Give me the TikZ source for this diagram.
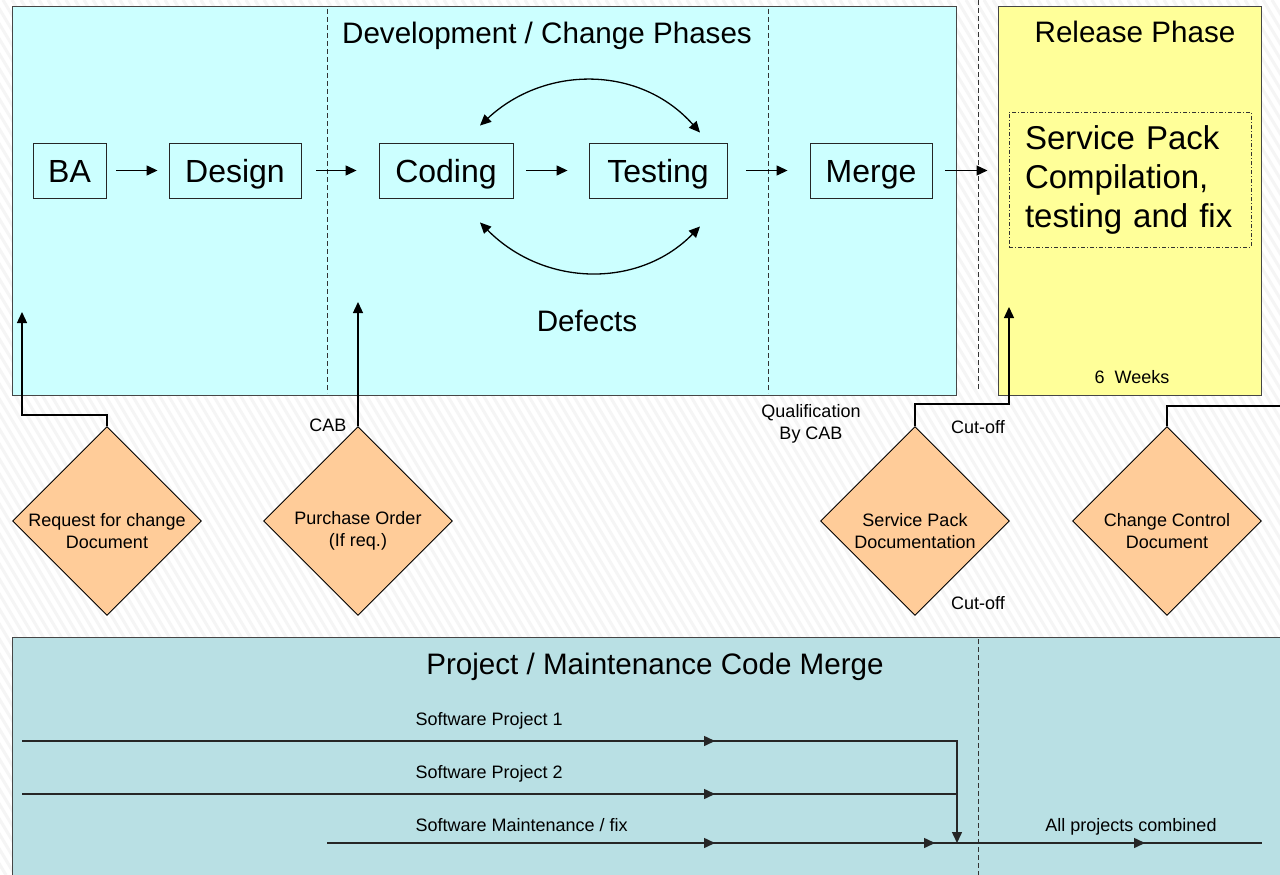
\documentclass[tikz,border=0pt]{standalone}
\usepackage{fontspec}
\setmainfont{Liberation Sans}
\usetikzlibrary{shapes.geometric,arrows.meta}
\definecolor{devfill}{RGB}{204,255,255}
\definecolor{relfill}{RGB}{255,255,153}
\definecolor{docfill}{RGB}{255,204,153}
\definecolor{mergefill}{RGB}{185,224,228}
\definecolor{edge}{RGB}{70,70,70}
\begin{document}
\begin{tikzpicture}[x=1pt,y=-1pt,
  line width=1.3pt,
  tip/.style={-{Triangle[length=11pt,width=10pt]}},
  dtip/.style={{Triangle[length=11pt,width=10pt]}-{Triangle[length=11pt,width=10pt]}},
  stripe/.style={draw=black!4,line width=3pt},
  phase/.style={draw=edge,line width=1pt,inner sep=0pt},
  stepbox/.style={draw=black!85,line width=0.9pt,minimum height=55pt,inner sep=0pt,
    text height=23pt,text depth=0pt,font=\fontsize{32}{38}\selectfont},
  docbox/.style={diamond,aspect=1,draw=black,line width=0.9pt,fill=docfill,
    minimum width=189pt,minimum height=189pt,inner sep=0pt},
  doctext/.style={font=\fontsize{18}{22}\selectfont,align=center},
  head/.style={font=\fontsize{29.6}{35}\selectfont,inner sep=0pt},
  small/.style={font=\fontsize{18}{22}\selectfont,inner sep=0pt},
  flow/.style={draw=black!85,line width=1.5pt},
  divider/.style={draw=black!80,line width=1pt,dash pattern=on 5pt off 3pt}]

\clip (0,0) rectangle (1280,875);
\fill[white] (0,0) rectangle (1280,875);
\foreach \i in {-600,-591,...,1280} \draw[stripe] (\i,0) -- ++(525,875);

% phase panels
\node[phase,fill=devfill,minimum width=944pt,minimum height=388pt] (dev) at (484,201) {};
\node[phase,fill=relfill,minimum width=263pt,minimum height=388pt] (rel) at (1129.5,201) {};
\node[phase,fill=mergefill,minimum width=1290pt,minimum height=253pt] (mrg) at (657,763.5) {};

% phase dividers
\draw[divider] (327,9) -- (327,393);
\draw[divider] (768,9) -- (768,393);
\draw[divider] (978,0) -- (978,390);
\draw[divider] (978,639) -- (978,875);

% headings
\node[head,anchor=base] (devtitle) at (547,44) {Development / Change Phases};
\node[head,anchor=base] (reltitle) at (1135,43) {Release Phase};
\node[head,anchor=base] (defects) at (587,331) {Defects};
\node[head,anchor=base] (mrgtitle) at (655,674) {Project / Maintenance Code Merge};
\node[small,anchor=base] (weeks) at (1132,383) {6\ \ Weeks};

% development steps
\node[stepbox,minimum width=73pt] (ba) at (69.5,170.5) {BA};
\node[stepbox,minimum width=132pt] (design) at (235,170.5) {Design};
\node[stepbox,minimum width=134pt] (coding) at (446,170.5) {Coding};
\node[stepbox,minimum width=138pt] (testing) at (658,170.5) {Testing};
\node[stepbox,minimum width=122pt] (merge) at (871,170.5) {Merge};

\draw[tip,shorten <=10pt,shorten >=11pt] (ba) -- (design);
\draw[tip,shorten <=15pt,shorten >=22pt] (design) -- (coding);
\draw[tip,shorten <=13pt,shorten >=21pt] (coding) -- (testing);
\draw[tip,shorten <=19pt,shorten >=22pt] (testing) -- (merge);
\draw[tip,shorten <=13pt,shorten >=10pt] (merge.east) -- (merge.east -| rel.west);

% coding / testing loops
\draw[dtip] ([xshift=34pt,yshift=17pt]coding.north) .. controls (545,65) and (640,65) .. ([xshift=42pt,yshift=10pt]testing.north);
\draw[dtip] ([xshift=34pt,yshift=-24pt]coding.south) .. controls (545,288) and (640,288) .. ([xshift=42pt,yshift=-28pt]testing.south);

% release work
\node[draw=black!80,line width=0.9pt,dash pattern=on 4pt off 2pt on 1pt off 2pt,
  minimum width=242pt,minimum height=135pt,inner xsep=16pt,inner ysep=0pt,
  text width=210pt,align=left,font=\fontsize{33}{39}\selectfont] (spc) at (1130,179.5)
  {Service Pack\\Compilation,\\testing and fix};

% documents
\node[docbox,label={[doctext,yshift=-10pt]center:Request for change\\Document}] (req) at (107,521) {};
\node[docbox,label={[doctext,yshift=-10pt]center:Purchase Order\\(If req.)}] (po) at (358,521) {};
\node[docbox,label={[doctext,yshift=-10pt]center:Service Pack\\Documentation}] (spd) at (915,521) {};
\node[docbox,label={[doctext,yshift=-10pt]center:Change Control\\Document}] (ccd) at (1167,521) {};

\coordinate (reqtip) at (22,312);
\coordinate (potip) at (358,302);
\coordinate (sptip) at (1009,307);
\coordinate (ccend) at (1290,406);

\draw[tip] (req.north) -- ++(0,-11) -| (reqtip);
\draw[tip] (po.north) -- (potip);
\draw[tip] (spd.north) -- ++(0,-22) -| (sptip);
\draw (ccd.north) |- (ccend);

\node[small,anchor=base] (cab) at (328,431) {CAB};
\node[small,align=center] (qual) at (811,424) {Qualification\\By CAB};
\node[small] (cut1) at (978,427) {Cut-off};
\node[small] (cut2) at (978,603) {Cut-off};

% code merge lines
\coordinate (p1s) at (22,741);
\coordinate (p1a) at (715,741);
\coordinate (p1c) at (957,741);
\coordinate (p2s) at (22,794);
\coordinate (p2a) at (715,794);
\coordinate (p2c) at (957,794);
\coordinate (ms) at (327,843);
\coordinate (ma1) at (715,843);
\coordinate (ma2) at (935,843);
\coordinate (join) at (957,843);
\coordinate (ca) at (1145,843);
\coordinate (me) at (1262,843);

% full runs, then the arrowheads along them
\draw[flow,tip] (p1s) -- (p1c) -- (join);
\draw[flow] (p2s) -- (p2c);
\draw[flow] (ms) -- (me);
\draw[flow,tip] (p1s) -- (p1a);
\draw[flow,tip] (p2s) -- (p2a);
\draw[flow,tip] (ms) -- (ma1);
\draw[flow,tip] (ma1) -- (ma2);
\draw[flow,tip] (join) -- (ca);

\node[small,anchor=base west] (sp1) at (415,725) {Software Project 1};
\node[small,anchor=base west] (sp2) at (415,778) {Software Project 2};
\node[small,anchor=base west] (smf) at (415,831) {Software Maintenance / fix};
\node[small,anchor=base] (apc) at (1131,831) {All projects combined};
\end{tikzpicture}
\end{document}
